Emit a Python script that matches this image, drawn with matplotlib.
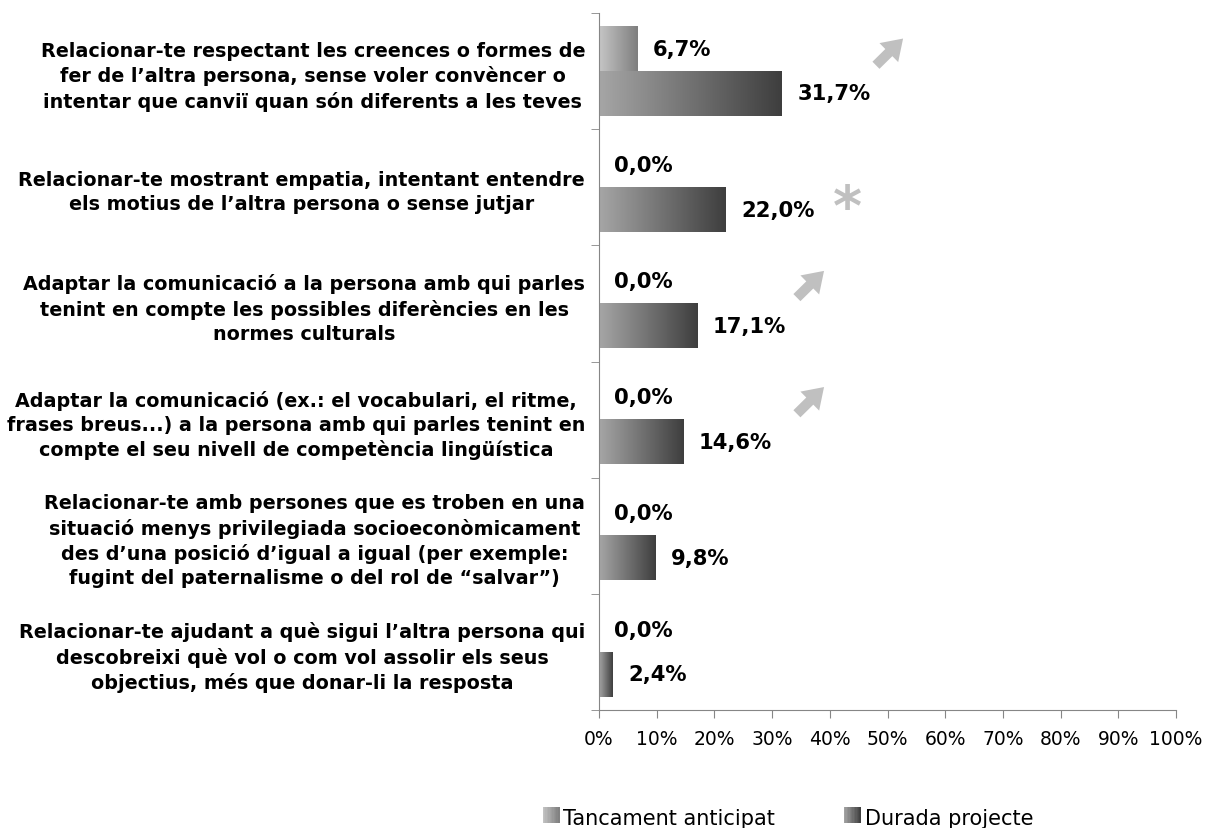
import numpy as np
import matplotlib
matplotlib.use('Agg')
import matplotlib.pyplot as plt
from matplotlib.colors import LinearSegmentedColormap
from matplotlib.legend_handler import HandlerBase
from matplotlib.patches import Rectangle, Patch

categories = [
    "Relacionar-te respectant les creences o formes de\nfer de l\u2019altra persona, sense voler conv\u00e8ncer o\nintentar que canvi\u00ef quan s\u00f3n diferents a les teves",
    "Relacionar-te mostrant empatia, intentant entendre\nels motius de l\u2019altra persona o sense jutjar",
    "Adaptar la comunicaci\u00f3 a la persona amb qui parles\ntenint en compte les possibles difer\u00e8ncies en les\nnormes culturals",
    "Adaptar la comunicaci\u00f3 (ex.: el vocabulari, el ritme,\nfrases breus...) a la persona amb qui parles tenint en\ncompte el seu nivell de compet\u00e8ncia ling\u00fc\u00edstica",
    "Relacionar-te amb persones que es troben en una\nsituaci\u00f3 menys privilegiada socioecon\u00f2micament\ndes d\u2019una posici\u00f3 d\u2019igual a igual (per exemple:\nfugint del paternalisme o del rol de \u201csalvar\u201d)",
    "Relacionar-te ajudant a qu\u00e8 sigui l\u2019altra persona qui\ndescobreixi qu\u00e8 vol o com vol assolir els seus\nobjectius, m\u00e9s que donar-li la resposta",
]
tancament = [6.7, 0.0, 0.0, 0.0, 0.0, 0.0]
durada = [31.7, 22.0, 17.1, 14.6, 9.8, 2.4]
series_names = ["Tancament anticipat", "Durada projecte"]
# significance marks next to each category
marks = ["arrow", "star", "arrow", "arrow", "", ""]

plt.rcParams['font.family'] = ['DejaVu Sans']

fig = plt.figure(figsize=(12.13, 8.29), dpi=100)
ax = fig.add_axes([599/1213, 1-711/829, 577/1213, 697/829])

cmap_light = LinearSegmentedColormap.from_list('l', ['#c6c6c6', '#7e7e7e'])
cmap_dark = LinearSegmentedColormap.from_list('d', ['#a6a6a6', '#3e3e3e'])

y = np.arange(len(categories))
h = 0.385
b1 = ax.barh(y - h/2, tancament, height=h, color='none')
b2 = ax.barh(y + h/2, durada, height=h, color='none')

grad = np.linspace(0, 1, 256).reshape(1, -1)
for bars, cm in [(b1, cmap_light), (b2, cmap_dark)]:
    for r in bars:
        w = r.get_width()
        if w <= 0:
            continue
        x0, y0, hh = r.get_x(), r.get_y(), r.get_height()
        ax.imshow(grad, cmap=cm, aspect='auto', extent=(x0, x0 + w, y0 + hh, y0),
                  interpolation='bicubic', zorder=2)

fmt = lambda v: f"{v:.1f}".replace('.', ',') + '%'
ax.bar_label(b1, labels=[fmt(v) for v in tancament], padding=11,
             fontsize=15.2, fontweight='bold')
ax.bar_label(b2, labels=[fmt(v) for v in durada], padding=11,
             fontsize=15.2, fontweight='bold')

# trend marks
mark_x = [48.0, 43.0, 34.3, 34.3]
for i, m in enumerate(marks):
    if m == "arrow":
        x0 = mark_x[i]
        ax.annotate('', xy=(x0 + 4.7, i - 0.28), xytext=(x0, i - 0.05),
                    arrowprops=dict(arrowstyle='simple,head_length=1.2,head_width=1.6,tail_width=0.6',
                                    color='#c0c0c0', lw=0, shrinkA=0, shrinkB=0, mutation_scale=12))
    elif m == "star":
        ax.text(mark_x[i], i + 0.185, '*', fontsize=40, fontweight='bold', color='#c0c0c0',
                ha='center', va='center')

ax.set_xlim(0, 100)
ax.set_ylim(len(categories) - 0.5, -0.5)
ax.set_xticks(np.arange(0, 101, 10))
ax.set_xticklabels([f"{v}%" for v in range(0, 101, 10)], fontsize=13.5)
ax.set_yticks(y)
ax.set_yticklabels(categories, fontsize=13.8, fontweight='bold', linespacing=1.34)
for lab in ax.get_yticklabels():
    lab.set_multialignment('center')
ax.set_yticks(np.arange(-0.5, len(categories)), minor=True)
ax.tick_params(axis='y', which='major', length=0, pad=10)
ax.tick_params(axis='y', which='minor', length=6, color='#868686')
ax.tick_params(axis='x', length=6, color='#868686', pad=8)
for s in ['top', 'right']:
    ax.spines[s].set_visible(False)
for s in ['left', 'bottom']:
    ax.spines[s].set_color('#868686')


class GradHandler(HandlerBase):
    def create_artists(self, legend, orig, xd, yd, w, h, fontsize, trans):
        cm = orig.grad_cmap
        n = 12
        arts = []
        for k in range(n):
            arts.append(Rectangle((xd + w*k/n, yd), w/n + 0.3, h, facecolor=cm((k + 0.5)/n),
                                  edgecolor='none', transform=trans))
        return arts


p1 = Patch(label=series_names[0]); p1.grad_cmap = cmap_light
p2 = Patch(label=series_names[1]); p2.grad_cmap = cmap_dark
fig.legend(handles=[p1, p2], loc='center', bbox_to_anchor=(788/1213, 1-819/829),
           ncol=2, frameon=False, fontsize=15, handlelength=0.8, handleheight=0.8,
           handletextpad=0.2, columnspacing=3.3,
           handler_map={Patch: GradHandler()})

fig.savefig('out.png', dpi=100)
